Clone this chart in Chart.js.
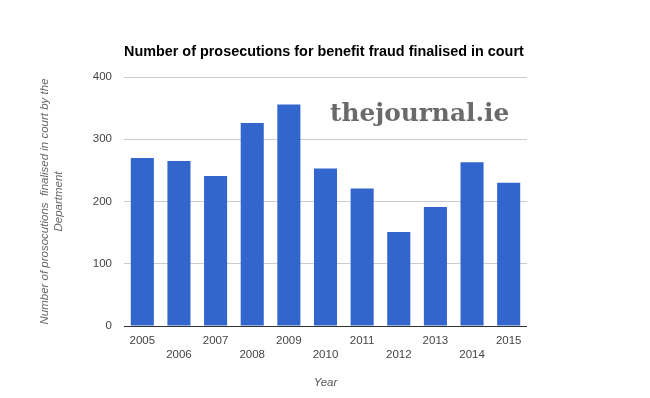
<!DOCTYPE html>
<html>
<head>
<meta charset="utf-8">
<script src="https://cdn.jsdelivr.net/npm/chart.js@4"></script>
<style>
  html, body { margin: 0; padding: 0; background: #fff; }
  #wrap { width: 650px; height: 398px; }
</style>
</head>
<body>
<div id="wrap"><canvas id="barChart" width="650" height="398"></canvas></div>
<script>
// data ----------------------------------------------------------
const years = ['2005', '2006', '2007', '2008', '2009', '2010', '2011', '2012', '2013', '2014', '2015'];
const prosecutions = [270, 265, 241, 326, 356, 253, 221, 151, 191, 263, 230];
const yTicks = [0, 100, 200, 300, 400];

const chartTitle = 'Number of prosecutions for benefit fraud finalised in court';
const yTitle = ['Number of prosocutions  finalised in court by the', 'Department'];
const xTitle = 'Year';
const watermark = 'thejournal.ie';

// title + watermark drawn on top of the chart
const extras = {
  id: 'extras',
  afterDraw(chart) {
    const ctx = chart.ctx;
    const area = chart.chartArea;
    ctx.save();
    ctx.fillStyle = '#000';
    ctx.font = 'bold 14.4px "Liberation Sans", Arial, sans-serif';
    ctx.textBaseline = 'alphabetic';
    ctx.textAlign = 'left';
    ctx.fillText(chartTitle, area.left, 56);

    ctx.fillStyle = '#6a6a6a';
    ctx.font = 'bold 24.8px "DejaVu Serif", "Liberation Serif", serif';
    ctx.fillText(watermark, 330, 121);
    ctx.restore();
  }
};

// config
const config = {
  type: 'bar',
  data: {
    labels: years,
    datasets: [{
      data: prosecutions,
      backgroundColor: '#3366cc',
      borderWidth: 0,
      barPercentage: 0.63,
      categoryPercentage: 1
    }]
  },
  options: {
    responsive: false,
    animation: false,
    layout: { padding: { left: 0, right: 123, top: 77, bottom: 0 } },
    plugins: {
      legend: { display: false },
      tooltip: { enabled: false }
    },
    scales: {
      x: {
        grid: { display: false },
        border: { display: false },
        ticks: {
          autoSkip: false,
          maxRotation: 0,
          padding: 0,
          color: '#444',
          font: { family: '"Liberation Sans", Arial, sans-serif', size: 11.5, lineHeight: 14 / 11.5 },
          // stagger the year labels over two rows
          callback: function (value, index) {
            const label = this.getLabelForValue(value);
            return index % 2 === 0 ? [label, ''] : ['', label];
          }
        },
        title: {
          display: true,
          text: xTitle,
          color: '#555',
          padding: { top: 0, bottom: 8 },
          font: { family: '"Liberation Sans", Arial, sans-serif', size: 11.5, style: 'italic', lineHeight: 14 / 11.5 }
        },
        afterFit(scale) { scale.height = 72; }
      },
      y: {
        min: 0,
        max: 400,
        afterBuildTicks(scale) { scale.ticks = yTicks.map(v => ({ value: v })); },
        border: { display: false },
        grid: {
          drawTicks: false,
          color: ctx => ctx.tick && ctx.tick.value === 0 ? '#333' : '#cccccc'
        },
        ticks: {
          padding: 12,
          color: '#444',
          font: { family: '"Liberation Sans", Arial, sans-serif', size: 11.5 }
        },
        title: {
          display: true,
          text: yTitle,
          color: '#666',
          padding: { top: 38, bottom: 0 },
          font: { family: '"Liberation Sans", Arial, sans-serif', size: 11.5, style: 'italic', lineHeight: 14 / 11.5 }
        },
        afterFit(scale) { scale.width = 124; }
      }
    }
  },
  plugins: [extras]
};

// render
const barChart = new Chart(document.getElementById('barChart'), config);
</script>
</body>
</html>
